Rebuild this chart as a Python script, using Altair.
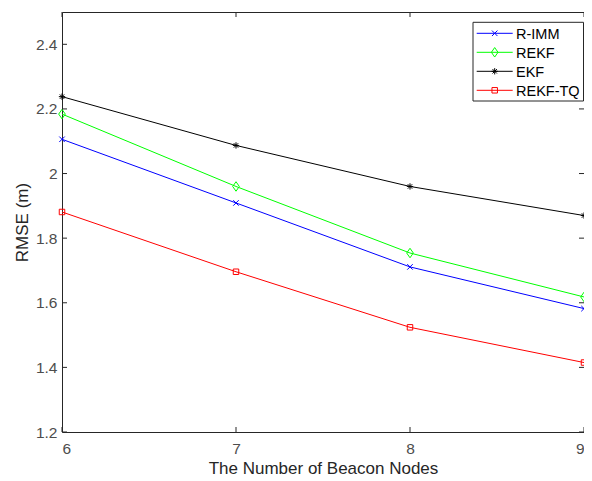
import altair as alt
import pandas as pd

nodes = [6, 7, 8, 9]
r_imm = [2.106, 1.909, 1.711, 1.582]
rekf = [2.184, 1.960, 1.754, 1.618]
ekf = [2.238, 2.087, 1.960, 1.870]
rekf_tq = [1.881, 1.696, 1.524, 1.415]

series_names = ["R-IMM", "REKF", "EKF", "REKF-TQ"]
series_values = [r_imm, rekf, ekf, rekf_tq]
series_colors = ["#0000FF", "#00FF00", "#000000", "#FF0000"]
series_shapes = [
    "M-1,-1L1,1M-1,1L1,-1",
    "M0,-1L0.7,0L0,1L-0.7,0Z",
    "M-1,0L1,0M0,-1L0,1M-0.7,-0.7L0.7,0.7M-0.7,0.7L0.7,-0.7",
    "M-1,-1L1,-1L1,1L-1,1Z",
]
series_sizes = [30, 90, 40, 30]

x_ticks = [6, 7, 8, 9]
y_ticks = [1.2, 1.4, 1.6, 1.8, 2.0, 2.2, 2.4]

W, H = 522, 420
FONT = "Liberation Sans"

rows = []
for name, vals in zip(series_names, series_values):
    for n, v in zip(nodes, vals):
        rows.append({"nodes": n, "rmse": v, "series": name})
df = pd.DataFrame(rows)

xs = alt.Scale(domain=[6, 9], nice=False, zero=False)
ys = alt.Scale(domain=[1.2, 2.5], nice=False, zero=False)
cs = alt.Scale(domain=series_names, range=series_colors)

base = alt.Chart(df)
lines = base.mark_line(strokeWidth=1).encode(
    x=alt.X("nodes:Q", scale=xs, title="The Number of Beacon Nodes",
            axis=alt.Axis(values=x_ticks, format="d", labelPadding=9, titlePadding=4)),
    y=alt.Y("rmse:Q", scale=ys, title="RMSE (m)",
            axis=alt.Axis(values=y_ticks, format="~g", labelPadding=5, titlePadding=4)),
    color=alt.Color("series:N", scale=cs, legend=None),
    detail="series:N",
)

point_layers = []
for name, col, shp, sz in zip(series_names, series_colors, series_shapes, series_sizes):
    point_layers.append(
        base.transform_filter(alt.datum.series == name).mark_point(
            shape=shp, size=sz, color=col, filled=False, strokeWidth=1, opacity=1
        ).encode(x=alt.X("nodes:Q", scale=xs), y=alt.Y("rmse:Q", scale=ys))
    )

xt = pd.DataFrame({"nodes": x_ticks})
yt = pd.DataFrame({"rmse": y_ticks})
tick_color = "#262626"
xb = alt.Chart(xt).mark_rule(color=tick_color, strokeWidth=1).encode(
    x=alt.X("nodes:Q", scale=xs), y=alt.value(H), y2=alt.value(H - 5))
xtp = alt.Chart(xt).mark_rule(color=tick_color, strokeWidth=1).encode(
    x=alt.X("nodes:Q", scale=xs), y=alt.value(0), y2=alt.value(5))
yl = alt.Chart(yt).mark_rule(color=tick_color, strokeWidth=1).encode(
    y=alt.Y("rmse:Q", scale=ys), x=alt.value(0), x2=alt.value(5))
yr = alt.Chart(yt).mark_rule(color=tick_color, strokeWidth=1).encode(
    y=alt.Y("rmse:Q", scale=ys), x=alt.value(W), x2=alt.value(W - 5))

# Legend
leg_layers = []
box = alt.Chart(pd.DataFrame({"a": [0]})).mark_rect(fill="white", stroke=tick_color, strokeWidth=1).encode(
    x=alt.value(411), x2=alt.value(521.5), y=alt.value(10.3), y2=alt.value(89))
leg_layers.append(box)
for i, (name, col, shp, sz) in enumerate(zip(series_names, series_colors, series_shapes, series_sizes)):
    yy = 21.3 + i * 19.0
    d = pd.DataFrame({"label": [name]})
    leg_layers.append(alt.Chart(d).mark_rule(color=col, strokeWidth=1).encode(
        x=alt.value(414.7), x2=alt.value(450.7), y=alt.value(yy)))
    leg_layers.append(alt.Chart(d).mark_point(shape=shp, size=sz, color=col, filled=False, strokeWidth=1,
                                              opacity=1).encode(
        x=alt.value(432.7), y=alt.value(yy)))
    leg_layers.append(alt.Chart(d).mark_text(align="left", baseline="alphabetic", font=FONT, fontSize=14.5,
                                             color="#000000").encode(
        x=alt.value(454), y=alt.value(yy + 5.2), text="label:N"))

chart = alt.layer(lines, *point_layers, xb, xtp, yl, yr, *leg_layers).properties(
    width=W, height=H,
    autosize=alt.AutoSizeParams(type="none"),
    padding={"left": 54, "top": 4, "right": 0, "bottom": 50},
).configure_view(
    stroke=tick_color, strokeWidth=1
).configure_axis(
    labelFont=FONT, labelFontSize=15.5, labelColor="#4d4d4d",
    titleFont=FONT, titleFontSize=17, titleColor="#262626", titleFontWeight="normal",
    domain=False, ticks=False, grid=False,
)

chart.save("out.html", embed_options={"renderer": "svg", "actions": False})
